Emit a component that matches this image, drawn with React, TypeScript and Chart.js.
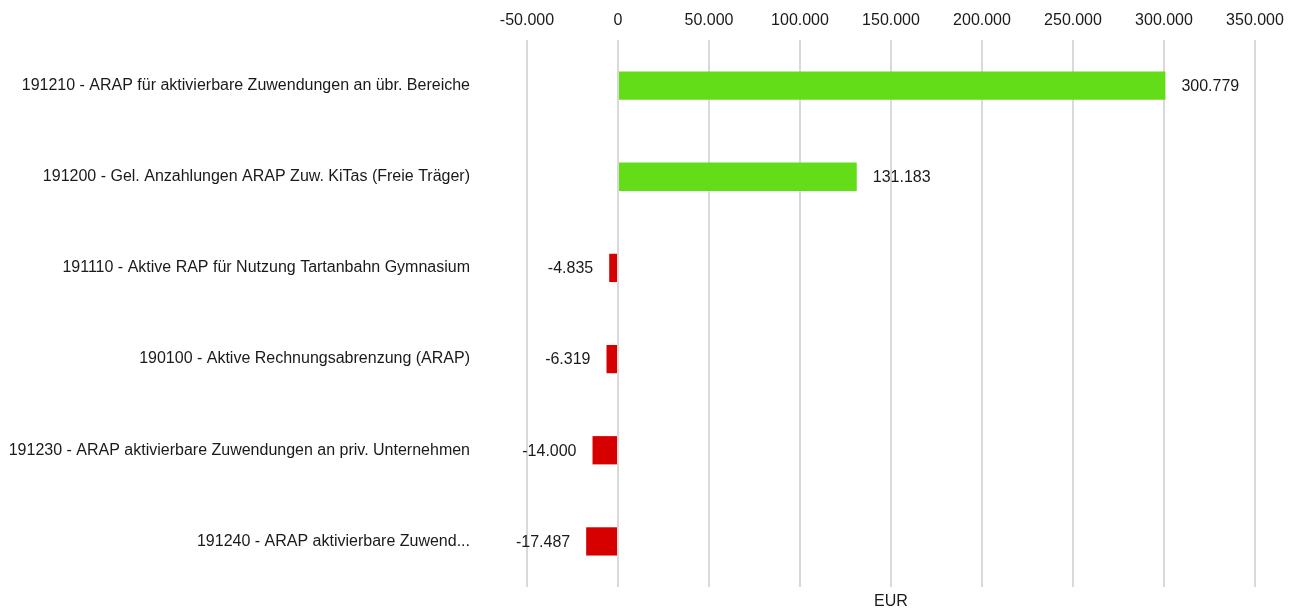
import React, { useEffect, useRef } from "react";
import { Chart, registerables } from "chart.js";

Chart.register(...registerables);

const categories = [
  "191210 - ARAP für aktivierbare Zuwendungen an übr. Bereiche",
  "191200 - Gel. Anzahlungen ARAP Zuw. KiTas (Freie Träger)",
  "191110 - Aktive RAP für Nutzung Tartanbahn Gymnasium",
  "190100 - Aktive Rechnungsabrenzung (ARAP)",
  "191230 - ARAP aktivierbare Zuwendungen an priv. Unternehmen",
  "191240 - ARAP aktivierbare Zuwend...",
];
const values = [300779, 131183, -4835, -6319, -14000, -17487];
const axisMin = -50000;
const axisMax = 350000;
const axisStep = 50000;
const axisTitle = "EUR";

const POS = "#62dd18";
const NEG = "#d60000";
const FONT = "'Liberation Sans', Arial, sans-serif";
const TEXT = "#1a1a1a";

function fmt(v: number): string {
  const neg = v < 0;
  const s = Math.round(Math.abs(v)).toString().replace(/\B(?=(\d{3})+(?!\d))/g, ".");
  return (neg ? "-" : "") + s;
}

const labelPlugin = {
  id: "barValueLabels",
  afterDatasetsDraw(chart: any) {
    const ctx = chart.ctx;
    const meta = chart.getDatasetMeta(0);
    ctx.save();
    ctx.font = `16px ${FONT}`;
    ctx.fillStyle = TEXT;
    ctx.textBaseline = "middle";
    meta.data.forEach((bar: any, i: number) => {
      const v = values[i];
      const p = bar.getProps(["x", "y", "base"], true);
      if (v >= 0) {
        ctx.textAlign = "left";
        ctx.fillText(fmt(v), p.x + 16, p.y + 1);
      } else {
        ctx.textAlign = "right";
        ctx.fillText(fmt(v), p.x - 16, p.y + 1);
      }
    });
    ctx.restore();
  },
};

export default function App() {
  const ref = useRef<HTMLCanvasElement | null>(null);
  useEffect(() => {
    document.body.style.margin = "0";
    if (!ref.current) return;
    const chart = new Chart(ref.current, {
      type: "bar",
      data: {
        labels: categories,
        datasets: [
          {
            data: values,
            backgroundColor: values.map((v) => (v >= 0 ? POS : NEG)),
            barPercentage: 0.31,
            categoryPercentage: 1,
            xAxisID: "x",
          },
        ],
      },
      options: {
        indexAxis: "y",
        animation: false,
        responsive: false,
        layout: { padding: { right: 44, top: 0, bottom: 0, left: 0 } },
        plugins: { legend: { display: false }, tooltip: { enabled: false } },
        scales: {
          x: {
            position: "top",
            min: axisMin,
            max: axisMax,
            ticks: {
              stepSize: axisStep,
              padding: 10,
              color: TEXT,
              font: { size: 16, family: FONT },
              callback: (v: any) => fmt(Number(v)),
            },
            grid: { color: "#d9d9d9", lineWidth: 2, drawTicks: false },
            border: { display: false },
            afterFit: (s: any) => {
              s.height = 40;
            },
          },
          x2: {
            position: "bottom",
            min: axisMin,
            max: axisMax,
            ticks: { display: false },
            grid: { display: false, drawTicks: false },
            border: { display: false },
            title: {
              display: true,
              text: axisTitle,
              color: TEXT,
              font: { size: 16, family: FONT },
              padding: { top: 4, bottom: 2 },
            },
            afterFit: (s: any) => {
              s.height = 26;
            },
          },
          y: {
            ticks: {
              padding: 57,
              color: TEXT,
              font: { size: 16, family: FONT },
            },
            grid: { display: false, drawTicks: false },
            border: { display: false },
            afterFit: (s: any) => {
              s.width = 527;
              s.paddingTop = 8;
              s.paddingBottom = 8;
            },
          },
        },
      },
      plugins: [labelPlugin],
    });
    return () => chart.destroy();
  }, []);
  return (
    <div style={{ width: 1299, height: 613 }}>
      <canvas ref={ref} width={1299} height={613} style={{ display: "block" }} />
    </div>
  );
}
